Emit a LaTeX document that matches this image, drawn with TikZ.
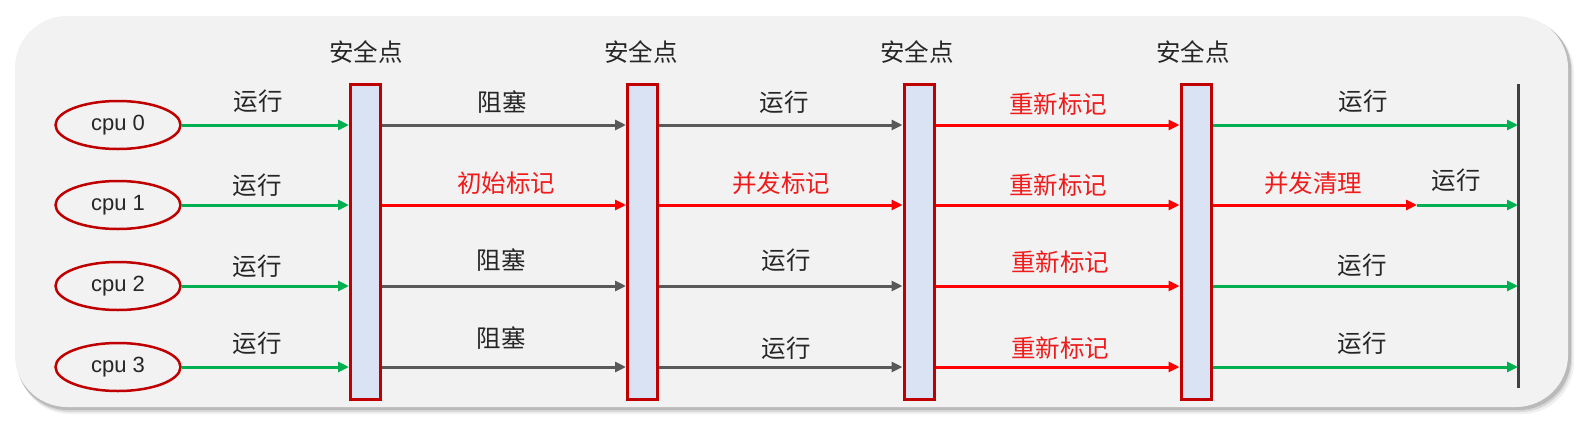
\documentclass[tikz,border=0pt]{standalone}
\usepackage{fontspec}
\setmainfont{Liberation Sans}
\newfontfamily\cjk{Noto Sans CJK SC}
\usetikzlibrary{arrows.meta,shapes.geometric}
\definecolor{grn}{HTML}{00B050}
\definecolor{rdarr}{HTML}{FF0000}
\definecolor{rtxt}{HTML}{EE1C1C}
\definecolor{gry}{HTML}{595959}
\definecolor{txt}{HTML}{262626}
\definecolor{dred}{HTML}{C00000}
\definecolor{barblue}{HTML}{DAE3F3}
\definecolor{panel}{HTML}{F2F2F2}
\definecolor{endline}{HTML}{404040}
\begin{document}
\begin{tikzpicture}[x=1pt,y=-1pt,
  cpu/.style={ellipse, draw=dred, line width=2.5pt, minimum width=125, minimum height=48, inner sep=0, text=txt, font=\fontsize{22}{24}\selectfont},
  sp/.style={rectangle, draw=dred, fill=barblue, line width=3pt, minimum width=30, minimum height=315, inner sep=0},
  arr/.style={line width=3pt, -{Triangle[length=11pt,width=10pt]}},
  lbl/.style={font=\cjk\fontsize{24.5}{28}\selectfont, text=txt, inner sep=0},
  rlbl/.style={lbl, text=rtxt}]
\useasboundingbox (0,0) rectangle (1585,434);
% panel with soft shadow
\fill[black, opacity=0.06, rounded corners=52] (18,21) rectangle (1574,414);
\fill[black, opacity=0.10, rounded corners=52] (17,19) rectangle (1572,412);
\fill[black, opacity=0.14, rounded corners=52] (16,18) rectangle (1571,410);
\fill[panel, rounded corners=52] (15,16) rectangle (1568,407);
% cpus
\node[cpu] (e0) at (118,125) {cpu 0};
\node[cpu] (e1) at (118,205) {cpu 1};
\node[cpu] (e2) at (118,286) {cpu 2};
\node[cpu] (e3) at (118,367) {cpu 3};
% safe points
\node[sp] (b1) at (365.5,242) {};
\node[sp] (b2) at (642.5,242) {};
\node[sp] (b3) at (919,242) {};
\node[sp] (b4) at (1196,242) {};
\node[lbl] (s1) at (366,52) {安全点};
\node[lbl] (s2) at (641,52) {安全点};
\node[lbl] (s3) at (917,52) {安全点};
\node[lbl] (s4) at (1193,52) {安全点};
% end line
\coordinate (endTop) at (1518,84);
\coordinate (endBot) at (1518,388);
\draw[endline, line width=3pt] (endTop) -- (endBot);
\coordinate (m) at (1417,205);
% segment 1
\foreach \r in {0,1,2,3} {\draw[arr, grn] (e\r) -- (b1.west |- e\r);}
% segment 2
\draw[arr, gry] (b1.east |- e0) -- (b2.west |- e0);
\draw[arr, rdarr] (b1.east |- e1) -- (b2.west |- e1);
\draw[arr, gry] (b1.east |- e2) -- (b2.west |- e2);
\draw[arr, gry] (b1.east |- e3) -- (b2.west |- e3);
% segment 3
\draw[arr, gry] (b2.east |- e0) -- (b3.west |- e0);
\draw[arr, rdarr] (b2.east |- e1) -- (b3.west |- e1);
\draw[arr, gry] (b2.east |- e2) -- (b3.west |- e2);
\draw[arr, gry] (b2.east |- e3) -- (b3.west |- e3);
% segment 4
\foreach \r in {0,1,2,3} {\draw[arr, rdarr] (b3.east |- e\r) -- (b4.west |- e\r);}
% segment 5
\draw[arr, grn] (b4.east |- e0) -- (endTop |- e0);
\draw[arr, rdarr] (b4.east |- e1) -- (m);
\draw[arr, grn] (m) -- (endTop |- e1);
\draw[arr, grn] (b4.east |- e2) -- (endTop |- e2);
\draw[arr, grn] (b4.east |- e3) -- (endTop |- e3);
% labels row 0
\node[lbl] (l00) at (258,101) {运行};
\node[lbl] (l01) at (502,102) {阻塞};
\node[lbl] (l02) at (784,102) {运行};
\node[rlbl] (l03) at (1058,104) {重新标记};
\node[lbl] (l04) at (1363,101) {运行};
% labels row 1
\node[lbl] (l10) at (257,185) {运行};
\node[rlbl] (l11) at (506,183) {初始标记};
\node[rlbl] (l12) at (781,183) {并发标记};
\node[rlbl] (l13) at (1058,185) {重新标记};
\node[rlbl] (l14) at (1313,183) {并发清理};
\node[lbl] (l15) at (1456,180) {运行};
% labels row 2
\node[lbl] (l20) at (257,266) {运行};
\node[lbl] (l21) at (501,260) {阻塞};
\node[lbl] (l22) at (786,260) {运行};
\node[rlbl] (l23) at (1060,262) {重新标记};
\node[lbl] (l24) at (1362,265) {运行};
% labels row 3
\node[lbl] (l30) at (257,343) {运行};
\node[lbl] (l31) at (501,338) {阻塞};
\node[lbl] (l32) at (786,348) {运行};
\node[rlbl] (l33) at (1060,348) {重新标记};
\node[lbl] (l34) at (1362,343) {运行};
\end{tikzpicture}
\end{document}
